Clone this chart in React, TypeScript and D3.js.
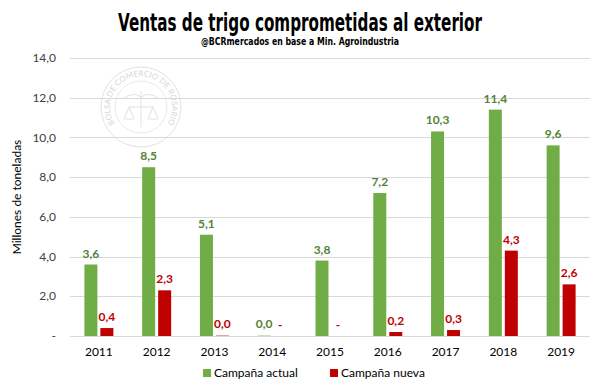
import { useEffect, useRef } from 'react';
import * as d3 from 'd3';

const years = ['2011', '2012', '2013', '2014', '2015', '2016', '2017', '2018', '2019'];
const seriesNames = ['Campaña actual', 'Campaña nueva'];
// null = sin dato (se muestra "-")
const actual = [3.6, 8.5, 5.1, 0.04, 3.8, 7.2, 10.3, 11.4, 9.6];
const nueva = [0.4, 2.3, 0.04, null, null, 0.2, 0.3, 4.3, 2.6];
const yTicks = [0, 2, 4, 6, 8, 10, 12, 14];

const barColors = ['#70ad47', '#c00000'];
const labelColors = ['#548235', '#c00000'];

function App() {
  const svgRef = useRef<SVGSVGElement>(null);

  useEffect(() => {
    const width = 600;
    const height = 392;
    const margin = { top: 58, right: 10, bottom: 56, left: 70 };

    const svg = d3.select(svgRef.current)
      .attr('width', width)
      .attr('height', height);
    svg.selectAll('*').remove();

    // fondo y borde
    svg.append('rect')
      .attr('x', 1).attr('y', 1)
      .attr('width', width - 2).attr('height', height - 2)
      .attr('fill', '#fff')
      .attr('stroke', '#595959')
      .attr('stroke-width', 2);

    const x0 = d3.scaleBand()
      .domain(years)
      .range([margin.left, width - margin.right])
      .padding(0);

    const x1 = d3.scaleBand()
      .domain(seriesNames)
      .range([0, x0.bandwidth()])
      .paddingInner(0.1875)
      .paddingOuter(0.9);

    const y = d3.scaleLinear()
      .domain([0, 14])
      .range([height - margin.bottom, margin.top]);

    const fmt = (v: number) => v.toFixed(1).replace('.', ',');

    // sello de fondo (marca de agua)
    const seal = svg.append('g')
      .attr('transform', 'translate(141,107)')
      .attr('opacity', 0.45);
    seal.append('circle').attr('r', 40).attr('fill', 'none').attr('stroke', '#bfbfbf').attr('stroke-width', 1);
    seal.append('circle').attr('r', 26).attr('fill', 'none').attr('stroke', '#bfbfbf').attr('stroke-width', 0.8);
    seal.append('path')
      .attr('id', 'sealPath')
      .attr('d', 'M -22,22 A 31 31 0 1 1 22,22')
      .attr('fill', 'none');
    seal.append('text')
      .style('font-family', 'Lato, sans-serif')
      .style('font-size', '8px')
      .attr('fill', '#a6a6a6')
      .append('textPath')
      .attr('href', '#sealPath')
      .attr('startOffset', '50%')
      .attr('text-anchor', 'middle')
      .text('BOLSA DE COMERCIO DE ROSARIO');
    seal.append('path')
      .attr('d', 'M -18,-8 Q -8,-16 0,-10 Q 8,-16 18,-8 M 0,-16 L 0,20 M -12,0 L 12,0 M -12,0 L -17,12 L -7,12 Z M 12,0 L 7,12 L 17,12 Z')
      .attr('fill', 'none')
      .attr('stroke', '#bfbfbf')
      .attr('stroke-width', 1);

    // líneas de cuadrícula
    svg.append('g')
      .selectAll('line')
      .data(yTicks)
      .enter().append('line')
      .attr('x1', margin.left)
      .attr('x2', width - margin.right)
      .attr('y1', d => Math.round(y(d)) + 0.5)
      .attr('y2', d => Math.round(y(d)) + 0.5)
      .attr('stroke', '#d9d9d9')
      .attr('stroke-width', 1);

    // etiquetas eje Y
    svg.append('g')
      .selectAll('text')
      .data(yTicks)
      .enter().append('text')
      .attr('x', 56)
      .attr('y', d => y(d))
      .attr('dy', '0.35em')
      .attr('text-anchor', 'end')
      .style('font-family', 'Lato, sans-serif')
      .style('font-size', '12px')
      .attr('fill', '#404040')
      .text(d => (d === 0 ? '-' : fmt(d)));

    // título del eje Y
    svg.append('text')
      .attr('transform', `translate(21,${(margin.top + height - margin.bottom) / 2}) rotate(-90)`)
      .attr('text-anchor', 'middle')
      .style('font-family', 'Lato, sans-serif')
      .style('font-size', '12px')
      .attr('fill', '#000')
      .text('Millones de toneladas');

    // eje X
    svg.append('g')
      .selectAll('text')
      .data(years)
      .enter().append('text')
      .attr('x', d => (x0(d) as number) + x0.bandwidth() / 2)
      .attr('y', height - margin.bottom + 20)
      .attr('text-anchor', 'middle')
      .style('font-family', 'Lato, sans-serif')
      .style('font-size', '12px')
      .attr('fill', '#000')
      .text(d => d);

    const allSeries = [actual, nueva];

    allSeries.forEach((values, si) => {
      const g = svg.append('g');
      const rows = years.map((yr, i) => ({ yr, v: values[i] }));

      g.selectAll('rect')
        .data(rows.filter(d => d.v !== null))
        .enter().append('rect')
        .attr('x', d => (x0(d.yr) as number) + (x1(seriesNames[si]) as number))
        .attr('width', x1.bandwidth())
        .attr('y', d => y(d.v as number))
        .attr('height', d => y(0) - y(d.v as number))
        .attr('fill', barColors[si])
        .attr('opacity', d => ((d.v as number) < 0.1 ? 0.45 : 1));

      g.selectAll('text')
        .data(rows)
        .enter().append('text')
        .attr('x', d => (x0(d.yr) as number) + (x1(seriesNames[si]) as number) + x1.bandwidth() / 2)
        .attr('y', d => y(d.v === null ? 0 : d.v) - 7)
        .attr('text-anchor', 'middle')
        .style('font-family', 'Lato, sans-serif')
        .style('font-size', '12px')
        .style('font-weight', 'bold')
        .attr('fill', labelColors[si])
        .text(d => (d.v === null ? '-' : fmt(d.v)));
    });

    // título y subtítulo (fuente condensada simulada con textLength)
    svg.append('text')
      .attr('x', 300)
      .attr('y', 31)
      .attr('text-anchor', 'middle')
      .attr('textLength', 364)
      .attr('lengthAdjust', 'spacingAndGlyphs')
      .style('font-family', '"DejaVu Sans", sans-serif')
      .style('font-size', '24px')
      .style('font-weight', 'bold')
      .attr('fill', '#000')
      .text('Ventas de trigo comprometidas al exterior');

    svg.append('text')
      .attr('x', 300)
      .attr('y', 45)
      .attr('text-anchor', 'middle')
      .attr('textLength', 198)
      .attr('lengthAdjust', 'spacingAndGlyphs')
      .style('font-family', '"DejaVu Sans", sans-serif')
      .style('font-size', '11px')
      .style('font-weight', 'bold')
      .attr('fill', '#000')
      .text('@BCRmercados en base a Min. Agroindustria');

    // leyenda
    const legend = svg.append('g').attr('transform', `translate(203,${height - 15})`);
    const legendX = [0, 127];
    seriesNames.forEach((name, i) => {
      legend.append('rect')
        .attr('x', legendX[i])
        .attr('y', -8)
        .attr('width', 8)
        .attr('height', 8)
        .attr('fill', barColors[i]);
      legend.append('text')
        .attr('x', legendX[i] + 11)
        .attr('y', 0)
        .style('font-family', 'Lato, sans-serif')
        .style('font-size', '12px')
        .attr('fill', '#000')
        .text(name);
    });
  }, []);

  return (
    <div style={{ margin: -8 }}>
      <svg ref={svgRef} style={{ display: 'block' }}></svg>
    </div>
  );
}

export default App;
